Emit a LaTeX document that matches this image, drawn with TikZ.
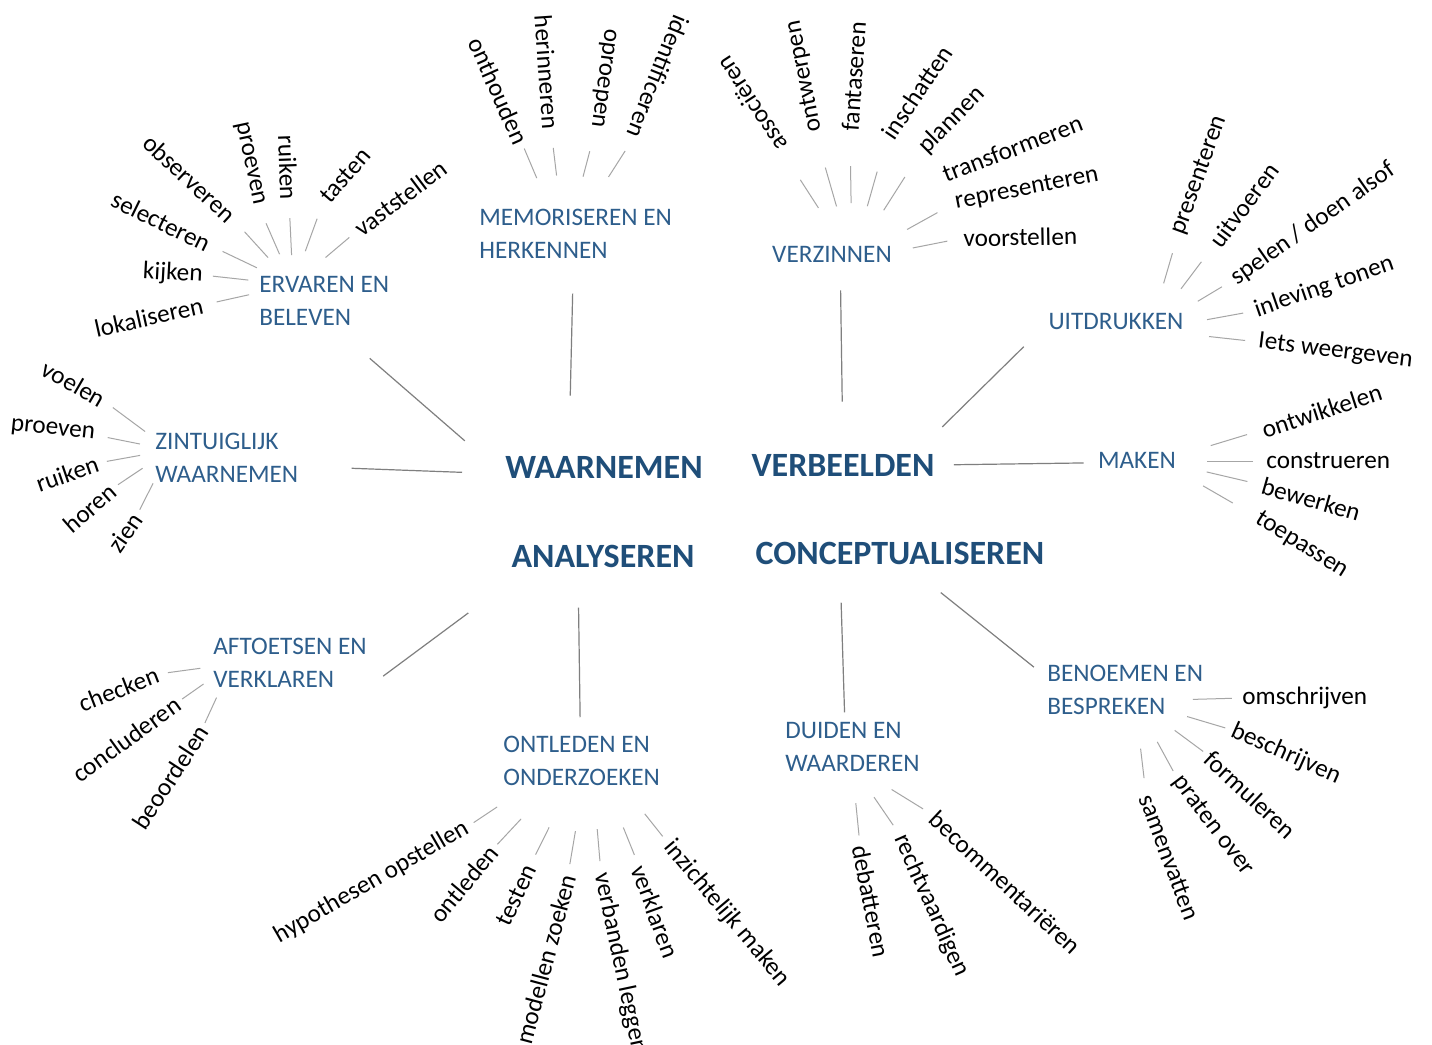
\documentclass[tikz,border=0pt]{standalone}
\usepackage{fontspec}
\setmainfont{Carlito}
\definecolor{catblue}{RGB}{46,94,140}
\definecolor{coreblue}{RGB}{31,78,121}
\definecolor{spokegray}{RGB}{166,166,166}
\definecolor{linkgray}{RGB}{127,127,127}
\tikzset{
  leaf/.style={inner sep=0pt, text=black, font=\fontsize{12.6}{15}\selectfont},
  cat/.style={inner sep=0pt, align=left, text=catblue, font=\fontsize{12.6}{16.5}\selectfont},
  core/.style={inner sep=0pt, text=coreblue, font=\fontsize{17}{20}\selectfont\bfseries},
  spoke/.style={draw=spokegray, line width=0.5pt},
  link/.style={draw=linkgray, line width=0.6pt}
}
\begin{document}
\begin{tikzpicture}[x=0.5pt,y=0.5pt]
\fill[white] (0,0) rectangle (1432,-1045);
\useasboundingbox (0,0) rectangle (1432,-1045);

\node[core] (waarnemen) at (604,-467) {WAARNEMEN};
\node[core] (verbeelden) at (843,-465) {VERBEELDEN};
\node[core] (analyseren) at (603,-556) {ANALYSEREN};
\node[core] (concept) at (900,-553) {CONCEPTUALISEREN};

\node[cat, anchor=west] (ervaren) at (259,-301) {ERVAREN EN\\BELEVEN};
\node[cat, anchor=west] (memoriseren) at (479,-234) {MEMORISEREN EN\\HERKENNEN};
\node[cat] (verzinnen) at (832,-254) {VERZINNEN};
\node[cat] (uitdrukken) at (1116,-321.5) {UITDRUKKEN};
\node[cat] (maken) at (1137,-460) {MAKEN};
\node[cat, anchor=west] (zintuiglijk) at (155,-457.5) {ZINTUIGLIJK\\WAARNEMEN};
\node[cat, anchor=west] (aftoetsen) at (213,-663) {AFTOETSEN EN\\VERKLAREN};
\node[cat, anchor=west] (ontleden) at (503,-761) {ONTLEDEN EN\\ONDERZOEKEN};
\node[cat, anchor=west] (duiden) at (785,-747) {DUIDEN EN\\WAARDEREN};
\node[cat, anchor=west] (benoemen) at (1047,-690) {BENOEMEN EN\\BESPREKEN};

\draw[link, shorten <=24.7pt, shorten >=26.6pt] (ervaren.-72.3) -- (waarnemen.185.2);
\draw[link, shorten <=17.3pt, shorten >=30pt] (memoriseren.-95.4) -- (waarnemen.162.2);
\draw[link, shorten <=26.5pt, shorten >=21.5pt] (zintuiglijk.-7.5) -- (waarnemen.184.4);
\draw[link, shorten <=14pt, shorten >=26pt] (verzinnen.-46.8) -- (verbeelden.90);
\draw[link, shorten <=17.1pt, shorten >=19pt] (uitdrukken.181) -- (verbeelden.9.5);
\draw[link, shorten <=9.5pt, shorten >=7pt] (verbeelden.0) -- (maken.184.5);
\draw[link, shorten <=10pt, shorten >=38pt] (aftoetsen.south east) -- (analyseren.189.8);
\draw[link, shorten <=20pt, shorten >=9.3pt] (analyseren.205.6) -- (ontleden.93.5);
\draw[link, shorten <=19pt, shorten >=4.8pt] (concept.191.3) -- (duiden.107);
\draw[link, shorten <=22.3pt, shorten >=8.4pt] (concept.-63.9) -- (benoemen.171.6);

\coordinate (ervHub) at (293,-285);
\coordinate (memHub) at (565,-245);
\coordinate (verHub) at (852,-260);
\coordinate (uitHub) at (1150,-330);
\coordinate (makHub) at (1160,-461);
\coordinate (zinHub) at (170,-450);
\coordinate (aftHub) at (232,-664);
\coordinate (ontHub) at (590,-745);
\coordinate (duiHub) at (852,-765);
\coordinate (benHub) at (1135,-701);

\foreach \ang/\dist/\rot/\anc/\gap/\inn/\txt [count=\i] in {
  132.3/90.6/-43/east/9.3/18.5/observeren,
  154.5/93/-26/east/7.5/20/selecteren,
  173.7/90.6/-3/east/5/22.5/kijken,
  192.5/92.2/12.6/east/7/22.5/lokaliseren,
  113.6/87.3/-78/east/10/16.8/proeven,
  92.7/85/-88/east/9/15/ruiken,
  70/90.5/49/west/10/18/tasten,
  40.2/83.7/37/west/5/21.3/vaststellen}
{
  \node[leaf, rotate=\rot, anchor=\anc] (erv\i) at ([shift={(\ang:\dist)}]ervHub) {\txt};
  \draw[spoke, shorten <=\gap pt, shorten >=\inn pt] (erv\i.\anc) -- (ervHub);
}

\foreach \ang/\dist/\rot/\anc/\gap/\inn/\txt [count=\i] in {
  112.9/110.7/-66/east/3/36.3/onthouden,
  96.9/116.8/-86/east/9.5/35/herinneren,
  75.2/121/-97.6/east/12/35.3/oproepen,
  57.4/128.2/-112/east/8.3/40.4/identificeren}
{
  \node[leaf, rotate=\rot, anchor=\anc] (mem\i) at ([shift={(\ang:\dist)}]memHub) {\txt};
  \draw[spoke, shorten <=\gap pt, shorten >=\inn pt] (mem\i.\anc) -- (memHub);
}

\foreach \ang/\dist/\rot/\anc/\gap/\inn/\txt [count=\i] in {
  122.8/131/123/west/17.8/31/associëren,
  106.1/133.2/101/west/18.5/27.9/ontwerpen,
  90.9/129/86/west/17.5/28.5/fantaseren,
  74.1/127.9/56/west/18/28/inschatten,
  57.5/130.4/45/west/16/29.5/plannen,
  29/117.7/11/west/10/31.5/representeren,
  11.2/113.2/1/west/8/31/voorstellen}
{
  \node[leaf, rotate=\rot, anchor=\anc] (ver\i) at ([shift={(\ang:\dist)}]verHub) {\txt};
  \draw[spoke, shorten <=\gap pt, shorten >=\inn pt] (ver\i.\anc) -- (verHub);
}
\node[leaf, rotate=21, anchor=west] (transformeren) at ([shift={(43:124.5)}]verHub) {transformeren};

\foreach \ang/\dist/\rot/\anc/\gap/\inn/\txt [count=\i] in {
  73.7/100/70/west/10/24.3/presenteren,
  53/106.4/53/west/10.5/25.8/uitvoeren,
  31/96.9/35/west/6.5/27.9/{spelen / doen alsof},
  10.3/106.7/19/west/6/29/inleving tonen,
  -6.3/108.7/-7/west/6.5/29.7/Iets weergeven}
{
  \node[leaf, rotate=\rot, anchor=\anc] (uit\i) at ([shift={(\ang:\dist)}]uitHub) {\txt};
  \draw[spoke, shorten <=\gap pt, shorten >=\inn pt] (uit\i.\anc) -- (uitHub);
}

\foreach \ang/\dist/\rot/\anc/\gap/\inn/\txt [count=\i] in {
  16.9/106.6/18/west/7.8/26.5/ontwikkelen,
  0/106/0/west/6.5/23.5/construeren,
  -13.2/104.8/-16/west/7.5/24/bewerken,
  -30/112/-32/west/14/24.9/toepassen}
{
  \node[leaf, rotate=\rot, anchor=\anc] (mak\i) at ([shift={(\ang:\dist)}]makHub) {\txt};
  \draw[spoke, shorten <=\gap pt, shorten >=\inn pt] (mak\i.\anc) -- (makHub);
}

\foreach \ang/\dist/\rot/\anc/\gap/\inn/\txt [count=\i] in {
  143.4/82.2/-30/east/5.5/15.5/voelen,
  168.7/76.5/-6/east/6.5/15.3/proeven,
  190.2/73.2/19/east/4.5/15.2/ruiken,
  213.7/68.5/41/east/3/16.5/horen,
  243.1/72.9/55/east/3/18.7/zien}
{
  \node[leaf, rotate=\rot, anchor=\anc] (zin\i) at ([shift={(\ang:\dist)}]zinHub) {\txt};
  \draw[spoke, shorten <=\gap pt, shorten >=\inn pt] (zin\i.\anc) -- (zinHub);
}

\foreach \ang/\dist/\rot/\anc/\gap/\inn/\txt [count=\i] in {
  187.7/74.7/21/east/5/16/checken,
  215.1/66/36/east/2.5/17.4/concluderen,
  245.3/69.4/57/east/2.3/18.5/beoordelen}
{
  \node[leaf, rotate=\rot, anchor=\anc] (aft\i) at ([shift={(\ang:\dist)}]aftHub) {\txt};
  \draw[spoke, shorten <=\gap pt, shorten >=\inn pt] (aft\i.\anc) -- (aftHub);
}

\foreach \ang/\dist/\rot/\anc/\gap/\inn/\txt [count=\i] in {
  213.7/147.8/30/east/4/55.8/hypothesen opstellen,
  227/140.8/50/east/2.5/50.5/ontleden,
  243.6/135/65/east/6.3/46/testen,
  260.4/131.8/75/east/5.5/43.7/modellen zoeken,
  274.9/128.5/-78/west/6/42.2/verbanden leggen,
  292/130.5/-70/west/6/44.5/verklaren,
  308.5/125.3/-50/west/4.3/44/inzichtelijk maken}
{
  \node[leaf, rotate=\rot, anchor=\anc] (ont\i) at ([shift={(\ang:\dist)}]ontHub) {\txt};
  \draw[spoke, shorten <=\gap pt, shorten >=\inn pt] (ont\i.\anc) -- (ontHub);
}

\foreach \ang/\dist/\rot/\anc/\gap/\inn/\txt [count=\i] in {
  275.7/80.4/-79/west/4.8/19.2/debatteren,
  304.4/84.9/-66/west/6/19.5/rechtvaardigen,
  328.3/95.2/-43/west/5.8/23.3/becommentariëren}
{
  \node[leaf, rotate=\rot, anchor=\anc] (dui\i) at ([shift={(\ang:\dist)}]duiHub) {\txt};
  \draw[spoke, shorten <=\gap pt, shorten >=\inn pt] (dui\i.\anc) -- (duiHub);
}

\foreach \ang/\dist/\rot/\anc/\gap/\inn/\txt [count=\i] in {
  1.6/107/0/west/5/29/omschrijven,
  -16.6/101.2/-24/west/3.5/27.2/beschrijven,
  -36.5/90.8/-43/west/3/24.7/formuleren,
  -61.4/87.7/-53/west/4/23.3/praten over,
  -83.3/94.6/-69.5/west/8.5/24/samenvatten}
{
  \node[leaf, rotate=\rot, anchor=\anc] (ben\i) at ([shift={(\ang:\dist)}]benHub) {\txt};
  \draw[spoke, shorten <=\gap pt, shorten >=\inn pt] (ben\i.\anc) -- (benHub);
}
\end{tikzpicture}
\end{document}
